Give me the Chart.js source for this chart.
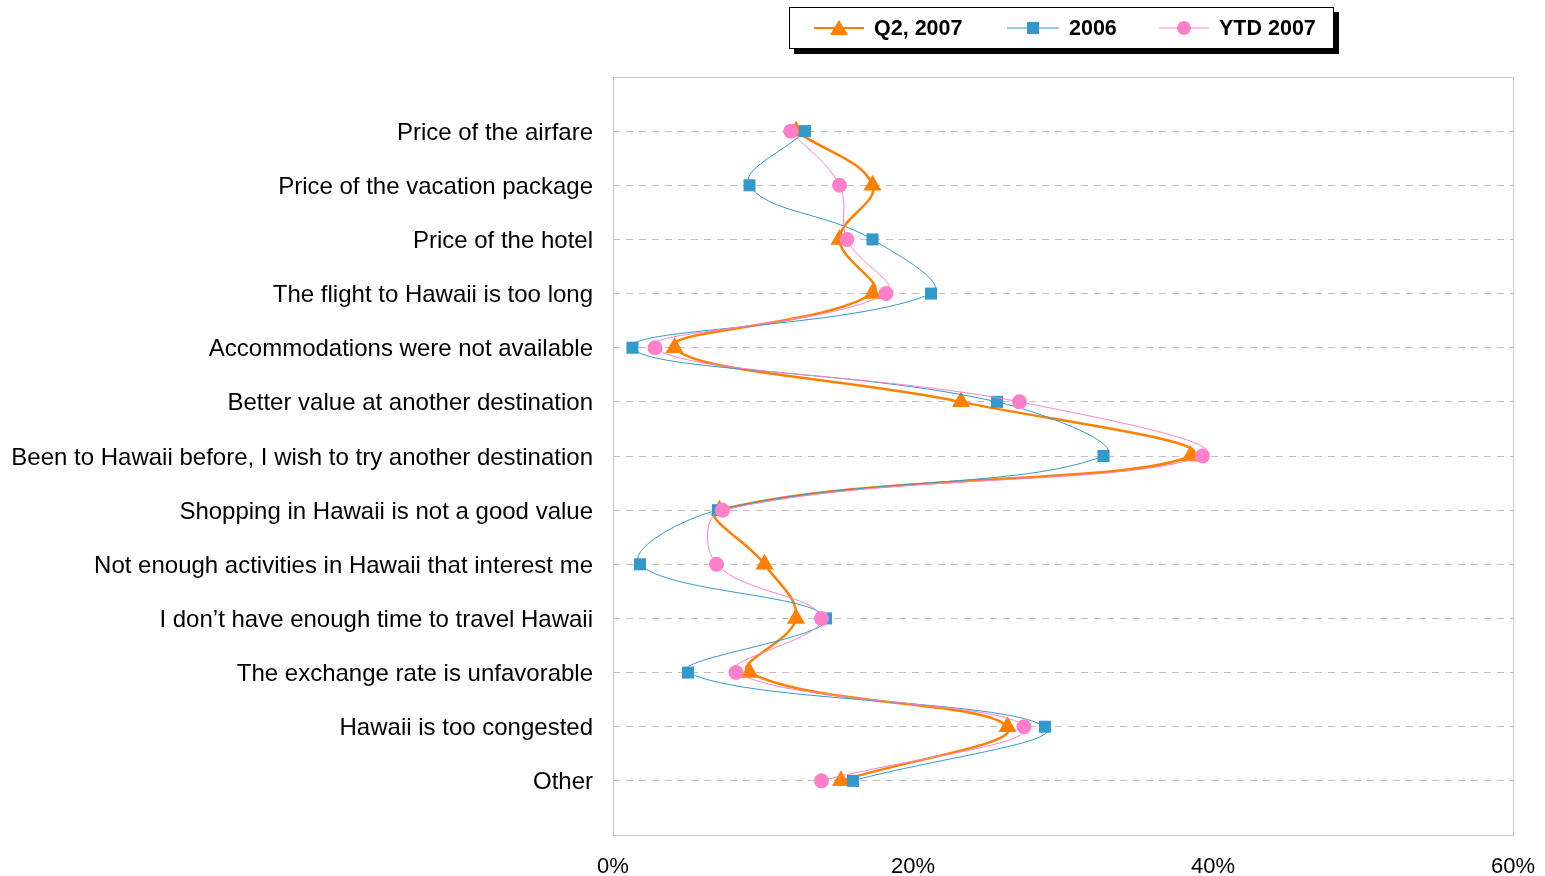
<!DOCTYPE html>
<html>
<head>
<meta charset="utf-8">
<script src="https://cdn.jsdelivr.net/npm/chart.js@4/dist/chart.umd.min.js"></script>
<style>
  body { margin: 0; background: #fff; font-family: "Liberation Sans", Arial, sans-serif; }
  #wrap { position: relative; width: 1545px; height: 876px; }
  #legend {
    position: absolute; left: 789px; top: 7px; width: 543px; height: 40px;
    border: 1px solid #000; background: #fff; box-shadow: 5px 5px 0 #000;
  }
  .item { position: absolute; top: 0; height: 40px; display: flex; align-items: center; }
  .item span { font-weight: bold; font-size: 21.5px; color: #000; margin-left: 10px; }
</style>
</head>
<body>
<div id="wrap">
  <canvas id="chart" width="1545" height="876"></canvas>
  <div id="legend">
    <div class="item" style="left:24px">
      <svg width="50" height="20"><line x1="0" y1="10" x2="50" y2="10" stroke="#ff8000" stroke-width="2"/><polygon points="25,2 34,17 16,17" fill="#ff8000"/></svg>
      <span>Q2, 2007</span>
    </div>
    <div class="item" style="left:217px">
      <svg width="52" height="20"><line x1="0" y1="10" x2="52" y2="10" stroke="#3399cc" stroke-width="1"/><rect x="20" y="4" width="12" height="12" fill="#3399cc"/></svg>
      <span>2006</span>
    </div>
    <div class="item" style="left:369px">
      <svg width="50" height="20"><line x1="0" y1="10" x2="50" y2="10" stroke="#ff80c8" stroke-width="1"/><circle cx="25" cy="10" r="7" fill="#ff80c8"/></svg>
      <span>YTD 2007</span>
    </div>
  </div>
</div>
<script>
const categories = [
  'Price of the airfare',
  'Price of the vacation package',
  'Price of the hotel',
  'The flight to Hawaii is too long',
  'Accommodations were not available',
  'Better value at another destination',
  'Been to Hawaii before, I wish to try another destination',
  'Shopping in Hawaii is not a good value',
  'Not enough activities in Hawaii that interest me',
  'I don\u2019t have enough time to travel Hawaii',
  'The exchange rate is unfavorable',
  'Hawaii is too congested',
  'Other'
];
const q2_2007 = [12.2, 17.3, 15.1, 17.3, 4.1, 23.2, 38.5, 7.1, 10.1, 12.2, 9.1, 26.3, 15.2];
const y2006 = [12.8, 9.1, 17.3, 21.2, 1.3, 25.6, 32.7, 7.0, 1.8, 14.2, 5.0, 28.8, 16.0];
const ytd2007 = [11.85, 15.1, 15.6, 18.2, 2.8, 27.1, 39.3, 7.3, 6.9, 13.9, 8.2, 27.4, 13.9];
const xTicks = [0, 20, 40, 60];

function toPoints(values) {
  return values.map(function (v, i) { return { x: v, y: i + 1 }; });
}

// plot area outline (all four sides)
const frame = {
  id: 'frame',
  beforeDatasetsDraw: function (chart) {
    const a = chart.chartArea;
    const ctx = chart.ctx;
    ctx.save();
    ctx.strokeStyle = '#c8c8c8';
    ctx.lineWidth = 1;
    ctx.strokeRect(Math.round(a.left) + 0.5, Math.round(a.top) + 0.5, Math.round(a.right - a.left), Math.round(a.bottom - a.top));
    ctx.restore();
  }
};

new Chart(document.getElementById('chart').getContext('2d'), {
  type: 'line',
  data: {
    datasets: [
      {
        label: 'Q2, 2007',
        data: toPoints(q2_2007),
        borderColor: '#ff8000',
        backgroundColor: '#ff8000',
        borderWidth: 2.5,
        pointStyle: 'triangle',
        pointRadius: 10.5,
        pointBorderWidth: 0,
        tension: 0.4,
        order: 3
      },
      {
        label: '2006',
        data: toPoints(y2006),
        borderColor: '#3399cc',
        backgroundColor: '#3399cc',
        borderWidth: 1,
        pointStyle: 'rect',
        pointRadius: 8.5,
        pointBorderWidth: 0,
        tension: 0.4,
        order: 2
      },
      {
        label: 'YTD 2007',
        data: toPoints(ytd2007),
        borderColor: '#ff80c8',
        backgroundColor: '#ff80c8',
        borderWidth: 1,
        pointStyle: 'circle',
        pointRadius: 7.5,
        pointBorderWidth: 0,
        tension: 0.4,
        order: 1
      }
    ]
  },
  options: {
    responsive: false,
    animation: false,
    indexAxis: 'y',
    layout: { padding: { top: 77, right: 32, left: 0, bottom: 0 } },
    plugins: { legend: { display: false }, tooltip: { enabled: false } },
    scales: {
      x: {
        type: 'linear',
        min: 0,
        max: 60,
        afterBuildTicks: function (scale) {
          scale.ticks = xTicks.map(function (v) { return { value: v }; });
        },
        afterFit: function (scale) {
          scale.height = 41;
          scale.paddingLeft = 0;
          scale.paddingRight = 0;
        },
        grid: { display: false, drawTicks: false },
        border: { display: false },
        ticks: {
          padding: 19,
          color: '#000',
          font: { family: '"Liberation Sans Narrow", "Liberation Sans", Arial', size: 22 },
          callback: function (v) { return v + '%'; }
        }
      },
      y: {
        type: 'linear',
        reverse: true,
        min: 0,
        max: 14,
        afterBuildTicks: function (scale) {
          scale.ticks = categories.map(function (c, i) { return { value: i + 1 }; });
        },
        afterFit: function (scale) { scale.width = 613; },
        border: { display: false, dash: [7, 6] },
        grid: { color: '#c0c0c0', drawTicks: false },
        ticks: {
          padding: 20,
          labelOffset: 2,
          color: '#000',
          font: { family: '"Liberation Sans", Arial', size: 24 },
          callback: function (v) { return categories[v - 1] || ''; }
        }
      }
    }
  },
  plugins: [frame]
});
</script>
</body>
</html>
